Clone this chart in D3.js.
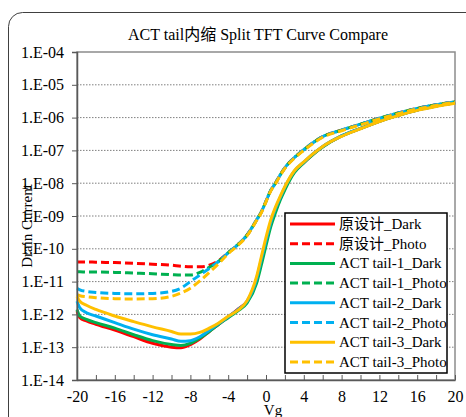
<!DOCTYPE html>
<html>
<head>
<meta charset="utf-8">
<script src="https://cdn.jsdelivr.net/npm/d3@7"></script>
<style>
  body { margin: 0; background: #fff; }
  svg { display: block; }
  text { font-family: "Liberation Serif", "Times New Roman", "Noto Sans CJK SC", serif; fill: #000; }
</style>
</head>
<body>
<div id="chart"></div>
<script>
// Vg sweep (V)
var vg = [-20, -19.7, -19, -18, -16, -14, -12, -10, -9, -8, -7, -6, -5, -4, -3, -2, -1, -0.5, 0, 0.5, 1, 1.5, 2, 3, 4, 5, 6, 8, 10, 12, 14, 16, 18, 20];

// drain current, stored as log10(A)
var origDark = [-11.9, -12.1, -12.2, -12.3, -12.48, -12.68, -12.88, -13.0, -13.02, -12.92, -12.75, -12.52, -12.3, -12.08, -11.85, -11.6, -10.95, -10.38, -9.8, -9.25, -8.82, -8.47, -8.15, -7.65, -7.37, -7.11, -6.89, -6.56, -6.33, -6.11, -5.93, -5.77, -5.65, -5.55];
var origPhoto = [-10.4, -10.4, -10.4, -10.41, -10.42, -10.44, -10.47, -10.5, -10.53, -10.55, -10.55, -10.5, -10.36, -10.12, -9.88, -9.58, -9.12, -8.88, -8.55, -8.22, -8.0, -7.75, -7.53, -7.22, -6.98, -6.76, -6.58, -6.38, -6.2, -6.02, -5.86, -5.72, -5.61, -5.52];
var tail1Dark = [-11.85, -12.05, -12.15, -12.25, -12.42, -12.62, -12.8, -12.92, -12.95, -12.88, -12.72, -12.52, -12.3, -12.1, -11.9, -11.65, -11.05, -10.5, -9.9, -9.33, -8.9, -8.52, -8.2, -7.68, -7.38, -7.12, -6.9, -6.56, -6.33, -6.11, -5.93, -5.77, -5.65, -5.55];
var tail1Photo = [-10.7, -10.7, -10.71, -10.71, -10.72, -10.74, -10.76, -10.79, -10.8, -10.8, -10.72, -10.56, -10.38, -10.12, -9.88, -9.58, -9.12, -8.88, -8.55, -8.22, -8.0, -7.75, -7.53, -7.22, -6.98, -6.76, -6.58, -6.38, -6.2, -6.02, -5.86, -5.72, -5.61, -5.52];
var tail2Dark = [-11.6, -11.8, -11.95, -12.05, -12.25, -12.45, -12.62, -12.75, -12.82, -12.8, -12.68, -12.48, -12.28, -12.07, -11.86, -11.6, -10.92, -10.33, -9.75, -9.2, -8.78, -8.44, -8.12, -7.63, -7.36, -7.1, -6.88, -6.56, -6.33, -6.11, -5.93, -5.77, -5.65, -5.55];
var tail2Photo = [-11.2, -11.25, -11.3, -11.33, -11.36, -11.37, -11.36, -11.3, -11.2, -11.0, -10.8, -10.6, -10.38, -10.12, -9.88, -9.58, -9.12, -8.88, -8.55, -8.22, -8.0, -7.75, -7.53, -7.22, -6.98, -6.76, -6.58, -6.38, -6.2, -6.02, -5.86, -5.72, -5.61, -5.52];
var tail3Dark = [-11.45, -11.6, -11.72, -11.85, -12.05, -12.22, -12.38, -12.52, -12.6, -12.6, -12.55, -12.42, -12.26, -12.06, -11.88, -11.58, -10.85, -10.25, -9.65, -9.12, -8.73, -8.4, -8.1, -7.62, -7.35, -7.1, -6.88, -6.57, -6.34, -6.12, -5.94, -5.78, -5.66, -5.56];
var tail3Photo = [-11.4, -11.43, -11.46, -11.49, -11.52, -11.53, -11.52, -11.45, -11.35, -11.2, -10.98, -10.72, -10.45, -10.15, -9.9, -9.6, -9.14, -8.9, -8.57, -8.24, -8.02, -7.77, -7.55, -7.24, -7.0, -6.78, -6.6, -6.4, -6.22, -6.04, -5.88, -5.74, -5.63, -5.53];

var seriesNames = ['原设计_Dark', '原设计_Photo', 'ACT tail-1_Dark', 'ACT tail-1_Photo', 'ACT tail-2_Dark', 'ACT tail-2_Photo', 'ACT tail-3_Dark', 'ACT tail-3_Photo'];
var seriesValues = [origDark, origPhoto, tail1Dark, tail1Photo, tail2Dark, tail2Photo, tail3Dark, tail3Photo];
var seriesColors = ['#ff0000', '#ff0000', '#00b050', '#00b050', '#00b0f0', '#00b0f0', '#ffc000', '#ffc000'];

var xTicks = [-20, -16, -12, -8, -4, 0, 4, 8, 12, 16, 20];
var yTicks = [1e-14, 1e-13, 1e-12, 1e-11, 1e-10, 1e-9, 1e-8, 1e-7, 1e-6, 1e-5, 1e-4];

var svgWidth = 466;
var svgHeight = 417;

var plot = { left: 77, right: 455, top: 52, bottom: 380 };

var svg = d3.select('#chart')
    .append('svg')
    .attr('width', svgWidth)
    .attr('height', svgHeight);

// chart frame (rounded, runs off the right and bottom edge)
svg.append('rect')
    .attr('x', 8.5)
    .attr('y', 12.5)
    .attr('width', 480)
    .attr('height', 440)
    .attr('rx', 14)
    .attr('fill', '#fff')
    .attr('stroke', '#404040')
    .attr('stroke-width', 1);

var x = d3.scaleLinear().domain([-20, 20]).range([plot.left, plot.right]);
var y = d3.scaleLog().domain([1e-14, 1e-4]).range([plot.bottom, plot.top]);

// gridlines
svg.append('g')
    .selectAll('line')
    .data(yTicks.slice(1, -1))
    .enter()
    .append('line')
    .attr('x1', plot.left)
    .attr('x2', plot.right)
    .attr('y1', d => y(d))
    .attr('y2', d => y(d))
    .attr('stroke', '#7f7f7f')
    .attr('stroke-width', 1)
    .attr('stroke-dasharray', '1.5,1.5');

// plot border
svg.append('rect')
    .attr('x', plot.left)
    .attr('y', plot.top)
    .attr('width', plot.right - plot.left)
    .attr('height', plot.bottom - plot.top)
    .attr('fill', 'none')
    .attr('stroke', '#8c8c8c')
    .attr('stroke-width', 1.5);

// series
var line = d3.line()
    .x((d, i) => x(vg[i]))
    .y(d => y(Math.pow(10, d)))
    .curve(d3.curveMonotoneX);

svg.append('g')
    .selectAll('path')
    .data(seriesValues)
    .enter()
    .append('path')
    .attr('d', d => line(d))
    .attr('fill', 'none')
    .attr('stroke', (d, i) => seriesColors[i])
    .attr('stroke-width', 3)
    .attr('stroke-linejoin', 'round')
    .attr('stroke-dasharray', (d, i) => i % 2 ? '8,4' : null);

// axes
var fmt = function (d) {
    var e = Math.round(Math.log10(d));
    return '1.E' + (e < 0 ? '-' : '+') + String(Math.abs(e)).padStart(2, '0');
};

var leftAxis = d3.axisLeft(y).tickValues(yTicks).tickFormat(fmt).tickSize(5).tickPadding(8);
var yAxis = svg.append('g')
    .attr('transform', `translate(${plot.left},0)`)
    .call(leftAxis);
yAxis.select('.domain').attr('stroke', '#595959').attr('stroke-width', 1.5);
yAxis.selectAll('.tick line').attr('stroke', '#595959');
yAxis.selectAll('text').attr('font-size', 16).attr('fill', '#000');

var bottomAxis = d3.axisBottom(x).tickValues(d3.range(-20, 21, 2)).tickFormat(d => xTicks.indexOf(d) >= 0 ? d : '').tickSizeInner(-5).tickSizeOuter(0).tickPadding(11);
var xAxis = svg.append('g')
    .attr('transform', `translate(0,${plot.bottom})`)
    .call(bottomAxis);
xAxis.select('.domain').attr('stroke', '#595959').attr('stroke-width', 1.5);
xAxis.selectAll('.tick line').attr('stroke', '#595959');
xAxis.selectAll('text').attr('font-size', 16).attr('fill', '#000');

// labels
svg.append('text')
    .attr('x', 258)
    .attr('y', 40)
    .attr('text-anchor', 'middle')
    .attr('font-size', 16)
    .text('ACT tail内缩 Split TFT Curve Compare');

svg.append('text')
    .attr('x', 273)
    .attr('y', 415)
    .attr('text-anchor', 'middle')
    .attr('font-size', 15)
    .text('Vg');

svg.append('text')
    .attr('transform', 'rotate(-90)')
    .attr('x', -226)
    .attr('y', 32)
    .attr('text-anchor', 'middle')
    .attr('font-size', 15)
    .text('Drain Current');

// legend
var legend = svg.append('g');
legend.append('rect')
    .attr('x', 285)
    .attr('y', 213)
    .attr('width', 162)
    .attr('height', 160)
    .attr('fill', '#fff')
    .attr('stroke', '#000')
    .attr('stroke-width', 1.5);

var entries = legend.selectAll('g.entry')
    .data(seriesNames)
    .enter()
    .append('g')
    .attr('class', 'entry')
    .attr('transform', (d, i) => `translate(0,${224 + i * 19.7})`);

entries.append('line')
    .attr('x1', 290)
    .attr('x2', 335)
    .attr('stroke', (d, i) => seriesColors[i])
    .attr('stroke-width', 3)
    .attr('stroke-dasharray', (d, i) => i % 2 ? '8,4' : null);

entries.append('text')
    .attr('x', 339)
    .attr('y', 5)
    .attr('font-size', 15)
    .text(d => d);
</script>
</body>
</html>
